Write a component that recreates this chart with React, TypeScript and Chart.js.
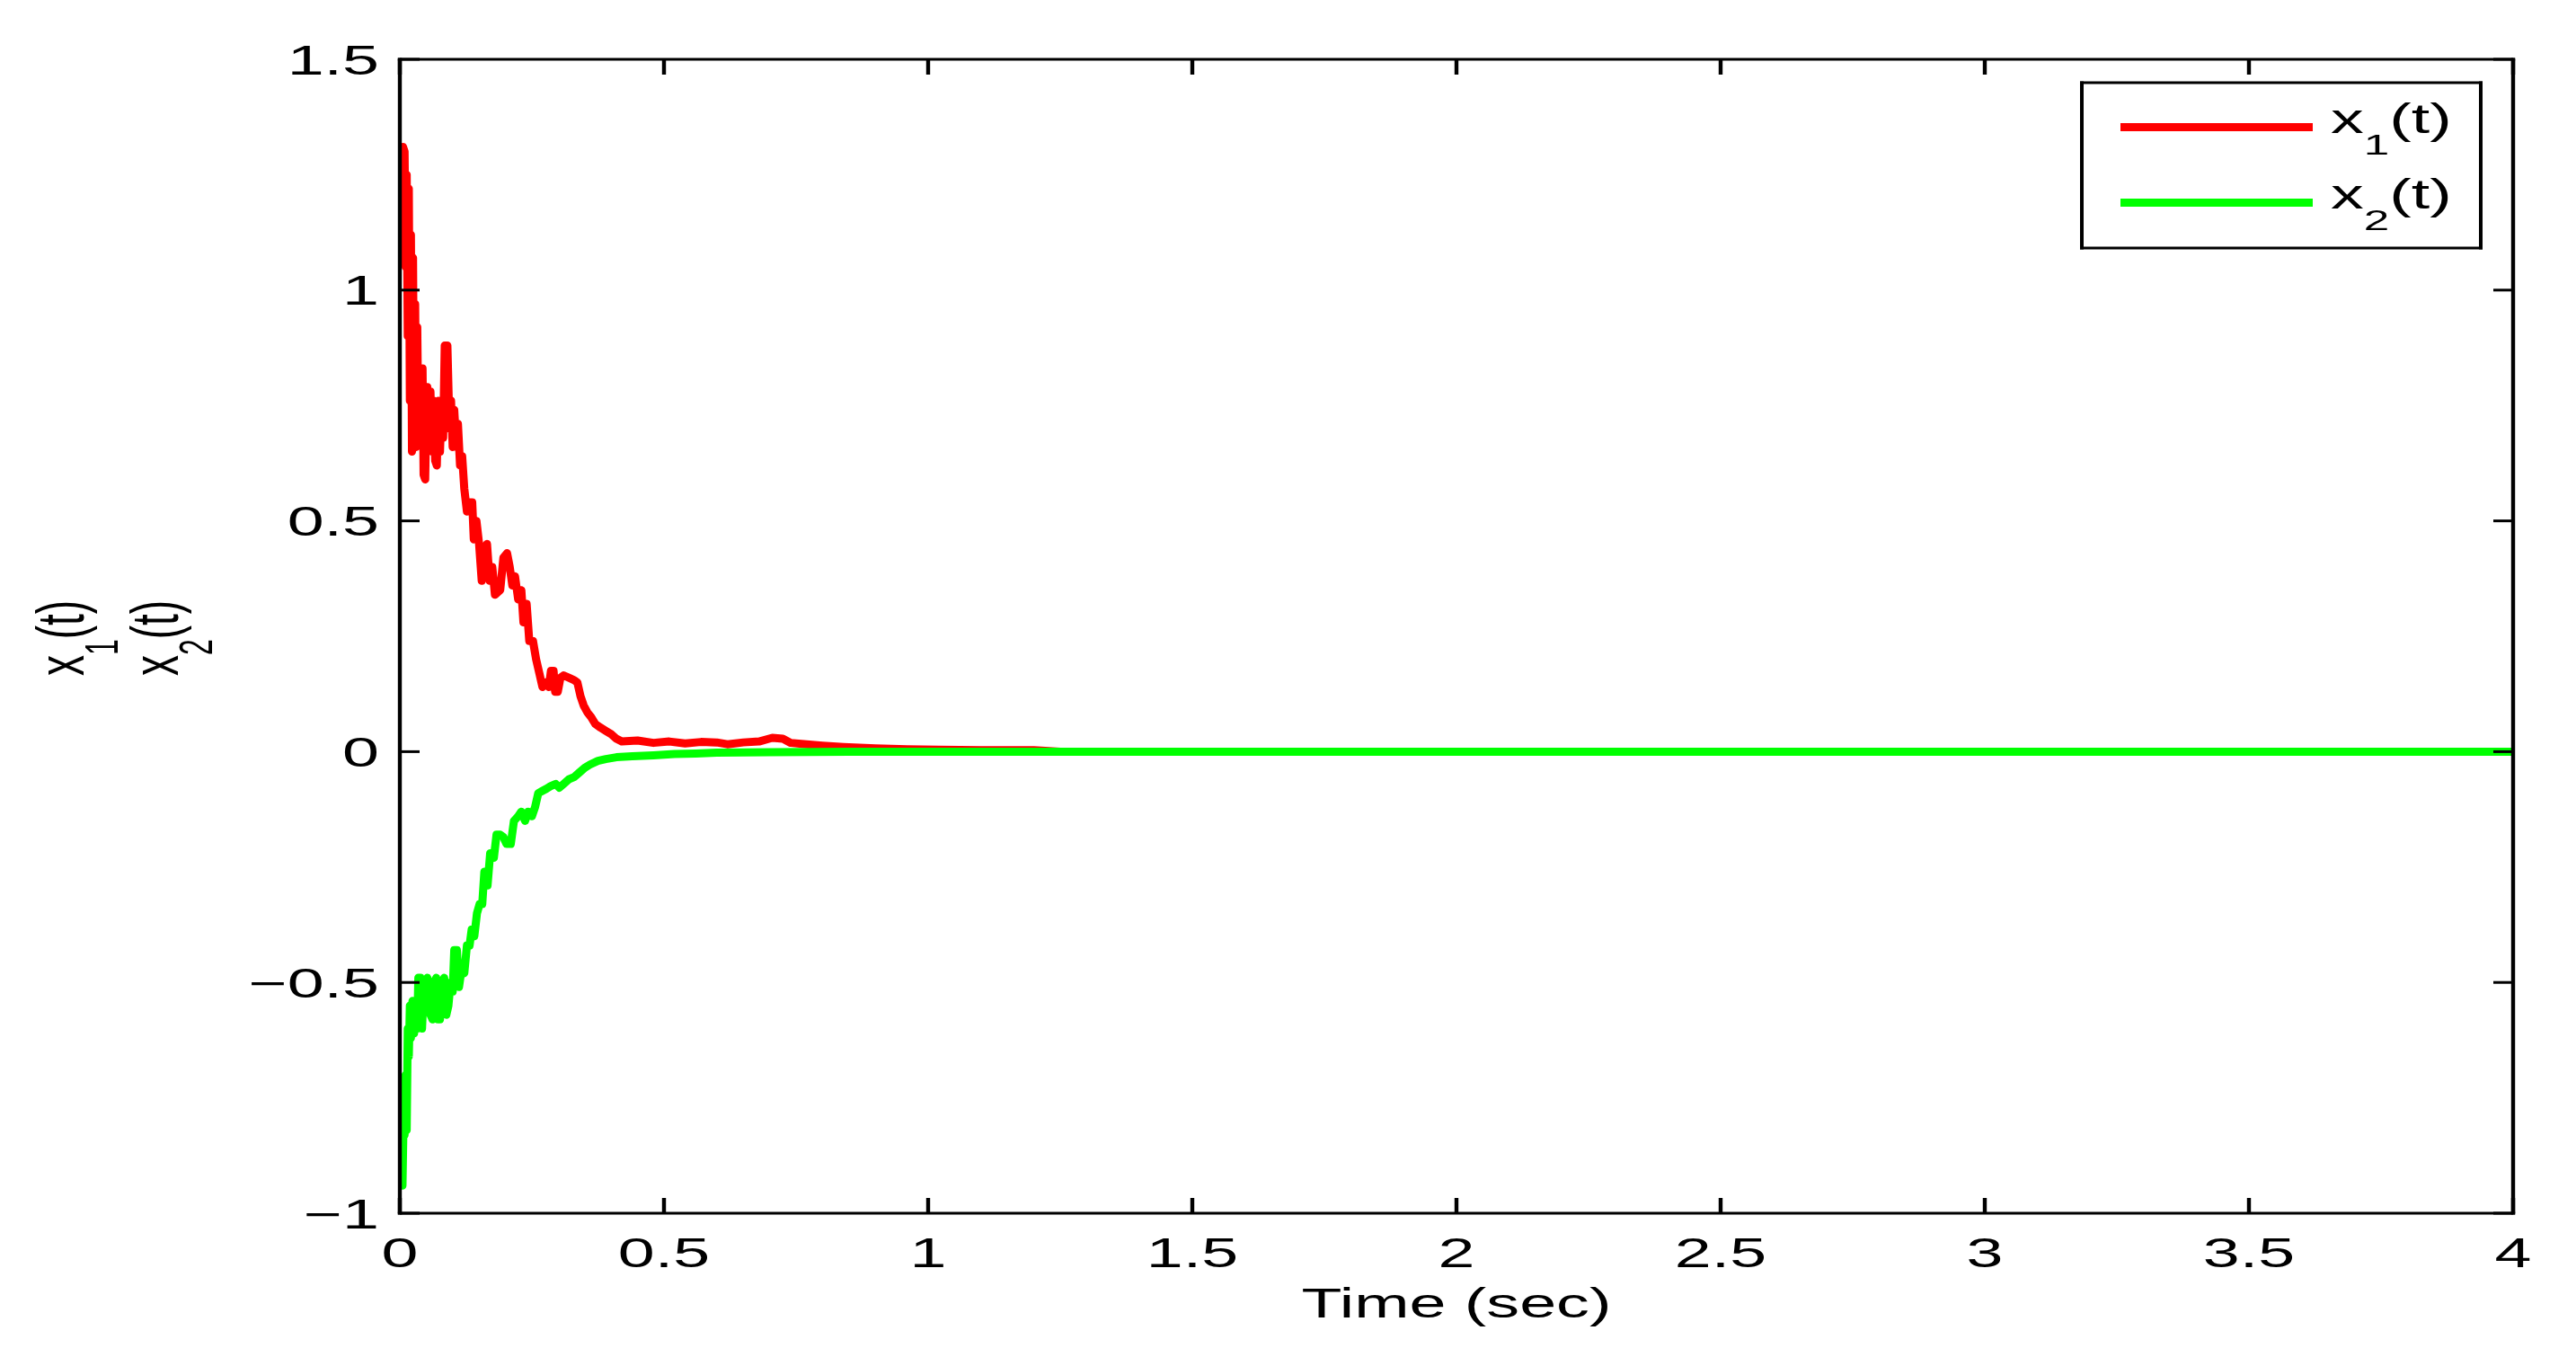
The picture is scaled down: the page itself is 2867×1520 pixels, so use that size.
import React, { useEffect, useRef } from 'react';
import { Chart, registerables } from 'chart.js';

Chart.register(...registerables);

// ---------- data ----------
const xTicks = [0, 0.5, 1, 1.5, 2, 2.5, 3, 3.5, 4];
const xTickLabels = ['0', '0.5', '1', '1.5', '2', '2.5', '3', '3.5', '4'];
const yTicks = [-1, -0.5, 0, 0.5, 1, 1.5];
const yTickLabels = ['\u22121', '\u22120.5', '0', '0.5', '1', '1.5'];
const xTitle = 'Time (sec)';
const seriesNames = [
  ['x', '1', '(t)'],
  ['x', '2', '(t)'],
];
const seriesColors = ['#ff0000', '#00ff00'];

const t1 = [
  0, 0.003, 0.006, 0.009, 0.011, 0.013, 0.015, 0.017, 0.019, 0.021,
  0.023, 0.025, 0.027, 0.029, 0.031, 0.033, 0.035, 0.037, 0.040, 0.043,
  0.045, 0.048, 0.050, 0.052, 0.055, 0.058, 0.061, 0.064, 0.067, 0.070,
  0.073, 0.076, 0.079, 0.082, 0.085, 0.090, 0.094, 0.097, 0.100, 0.103,
  0.107, 0.110, 0.114, 0.118, 0.122, 0.127, 0.130, 0.137, 0.140, 0.145,
  0.150, 0.155, 0.160, 0.165, 0.170, 0.175, 0.180, 0.190, 0.196, 0.203,
  0.208, 0.213, 0.218, 0.224, 0.230, 0.234, 0.240, 0.245, 0.252, 0.258,
  0.264, 0.270, 0.276, 0.282, 0.286, 0.291, 0.294, 0.299, 0.304, 0.310,
  0.320, 0.330, 0.336, 0.342, 0.348, 0.355, 0.362, 0.370, 0.380, 0.390,
  0.400, 0.410, 0.420, 0.450, 0.480, 0.510, 0.540, 0.570, 0.600, 0.620,
  0.650, 0.680, 0.705, 0.725, 0.740, 0.770, 0.800, 0.840, 0.900, 0.960,
  1.020, 1.100, 1.200, 1.250, 4.0,
];
const x1 = [
  1.30, 1.12, 1.31, 1.30, 1.05, 1.25, 0.90, 1.22, 0.76, 1.12,
  0.65, 1.07, 0.66, 0.97, 0.66, 0.92, 0.70, 0.83, 0.74, 0.83,
  0.60, 0.59, 0.72, 0.79, 0.66, 0.78, 0.65, 0.76, 0.63, 0.62,
  0.76, 0.65, 0.76, 0.68, 0.88, 0.88, 0.70, 0.76, 0.66, 0.74,
  0.66, 0.71, 0.62, 0.64, 0.57, 0.52, 0.54, 0.54, 0.46, 0.50,
  0.45, 0.37, 0.44, 0.45, 0.37, 0.40, 0.34, 0.35, 0.42, 0.43,
  0.40, 0.36, 0.38, 0.33, 0.35, 0.28, 0.32, 0.24, 0.24, 0.20,
  0.17, 0.14, 0.15, 0.14, 0.175, 0.175, 0.13, 0.13, 0.16, 0.165,
  0.16, 0.155, 0.15, 0.12, 0.10, 0.085, 0.075, 0.06, 0.052, 0.045,
  0.038, 0.028, 0.022, 0.024, 0.019, 0.022, 0.018, 0.021, 0.020, 0.016,
  0.020, 0.022, 0.030, 0.028, 0.019, 0.016, 0.013, 0.010, 0.007, 0.005,
  0.004, 0.003, 0.003, 0, 0,
];

const t2 = [
  0, 0.002, 0.005, 0.007, 0.009, 0.011, 0.013, 0.015, 0.017, 0.019,
  0.021, 0.024, 0.027, 0.030, 0.033, 0.035, 0.039, 0.042, 0.045, 0.048,
  0.052, 0.055, 0.058, 0.062, 0.065, 0.069, 0.072, 0.076, 0.080, 0.084,
  0.088, 0.092, 0.096, 0.100, 0.103, 0.108, 0.112, 0.117, 0.122, 0.127,
  0.132, 0.136, 0.141, 0.146, 0.151, 0.156, 0.160, 0.166, 0.171, 0.178,
  0.183, 0.190, 0.196, 0.202, 0.210, 0.216, 0.224, 0.230, 0.237, 0.243,
  0.250, 0.256, 0.262, 0.270, 0.278, 0.285, 0.295, 0.302, 0.310, 0.320,
  0.330, 0.340, 0.350, 0.360, 0.375, 0.390, 0.410, 0.440, 0.480, 0.520,
  0.560, 0.600, 0.700, 0.850, 4.0,
];
const x2 = [
  -0.77, -0.94, -0.94, -0.80, -0.83, -0.70, -0.82, -0.60, -0.66, -0.55,
  -0.62, -0.54, -0.61, -0.55, -0.60, -0.49, -0.49, -0.60, -0.52, -0.56,
  -0.49, -0.50, -0.57, -0.58, -0.50, -0.49, -0.58, -0.58, -0.50, -0.49,
  -0.57, -0.55, -0.50, -0.52, -0.43, -0.43, -0.51, -0.47, -0.48, -0.42,
  -0.42, -0.385, -0.40, -0.35, -0.33, -0.33, -0.26, -0.29, -0.22, -0.23,
  -0.18, -0.18, -0.185, -0.20, -0.20, -0.15, -0.14, -0.13, -0.15, -0.13,
  -0.14, -0.12, -0.09, -0.085, -0.08, -0.075, -0.07, -0.078, -0.07, -0.06,
  -0.055, -0.045, -0.035, -0.028, -0.02, -0.016, -0.012, -0.010, -0.008, -0.005,
  -0.004, -0.002, -0.001, 0, 0,
];

// ---------- styling ----------
const W = 2867;
const H = 1520;
const FONT_FAMILY = '"Liberation Sans", Arial, Helvetica, sans-serif';
const MAIN_FONT = `46px ${FONT_FAMILY}`;
const SUB_FONT = `32px ${FONT_FAMILY}`;
const SUB_DY = 24;
const SX = 1.6; // horizontal text stretch of the original rendering
const LINE_W = 9;

type Part = { text: string; sub?: boolean };
const toParts = (n: string[]): Part[] => [
  { text: n[0] },
  { text: n[1], sub: true },
  { text: n[2] },
];

function richWidth(ctx: CanvasRenderingContext2D, parts: Part[]) {
  let w = 0;
  for (const p of parts) {
    ctx.font = p.sub ? SUB_FONT : MAIN_FONT;
    w += ctx.measureText(p.text).width;
  }
  return w;
}

function drawRich(ctx: CanvasRenderingContext2D, parts: Part[], x: number, y: number) {
  let cx = x;
  ctx.textAlign = 'left';
  ctx.textBaseline = 'alphabetic';
  for (const p of parts) {
    ctx.font = p.sub ? SUB_FONT : MAIN_FONT;
    ctx.fillText(p.text, cx, y + (p.sub ? SUB_DY : 0));
    cx += ctx.measureText(p.text).width;
  }
}

function stretchedText(
  ctx: CanvasRenderingContext2D,
  text: string,
  x: number,
  y: number,
  align: CanvasTextAlign
) {
  ctx.save();
  ctx.translate(x, y);
  ctx.scale(SX, 1);
  ctx.font = MAIN_FONT;
  ctx.textAlign = align;
  ctx.textBaseline = 'alphabetic';
  ctx.fillStyle = '#000';
  ctx.fillText(text, 0, 0);
  ctx.restore();
}

const matlabPlugin = {
  id: 'matlabLook',
  beforeDraw(chart: any) {
    const ctx = chart.ctx as CanvasRenderingContext2D;
    ctx.save();
    ctx.fillStyle = '#fff';
    ctx.fillRect(0, 0, chart.width, chart.height);
    ctx.restore();
  },
  afterDatasetsDraw(chart: any) {
    const ctx = chart.ctx as CanvasRenderingContext2D;
    const xs = chart.scales.x;
    const ys = chart.scales.y;
    const L = xs.getPixelForValue(xs.min);
    const R = xs.getPixelForValue(xs.max);
    const T = ys.getPixelForValue(ys.max);
    const B = ys.getPixelForValue(ys.min);
    const VW = 4.4; // vertical line width
    const HW = 3; // horizontal line width
    ctx.save();
    ctx.fillStyle = '#000';
    // box
    ctx.fillRect(L - VW / 2, T - HW / 2, R - L + VW, HW);
    ctx.fillRect(L - VW / 2, B - HW / 2, R - L + VW, HW);
    ctx.fillRect(L - VW / 2, T - HW / 2, VW, B - T + HW);
    ctx.fillRect(R - VW / 2, T - HW / 2, VW, B - T + HW);
    // ticks (inward, mirrored)
    const XTL = 17;
    const YTL = 22;
    for (const v of xTicks) {
      const px = xs.getPixelForValue(v);
      ctx.fillRect(px - VW / 2, B - XTL, VW, XTL);
      ctx.fillRect(px - VW / 2, T, VW, XTL);
    }
    for (const v of yTicks) {
      const py = ys.getPixelForValue(v);
      ctx.fillRect(L, py - HW / 2, YTL, HW);
      ctx.fillRect(R - YTL, py - HW / 2, YTL, HW);
    }
    ctx.restore();
  },
  afterDraw(chart: any) {
    const ctx = chart.ctx as CanvasRenderingContext2D;
    const xs = chart.scales.x;
    const ys = chart.scales.y;
    const L = xs.getPixelForValue(xs.min);
    const R = xs.getPixelForValue(xs.max);
    const T = ys.getPixelForValue(ys.max);
    const B = ys.getPixelForValue(ys.min);

    // tick labels
    xTicks.forEach((v, i) => {
      stretchedText(ctx, xTickLabels[i], xs.getPixelForValue(v), B + 60, 'center');
    });
    yTicks.forEach((v, i) => {
      stretchedText(ctx, yTickLabels[i], L - 23, ys.getPixelForValue(v) + 16.5, 'right');
    });

    // x title
    stretchedText(ctx, xTitle, (L + R) / 2, B + 116, 'center');

    // y title: two rotated lines
    const cy = (T + B) / 2 + 2;
    seriesNames.forEach((n, i) => {
      const parts = toParts(n);
      ctx.save();
      ctx.translate(93 + i * 105, cy);
      ctx.scale(SX, 1);
      ctx.rotate(-Math.PI / 2);
      ctx.fillStyle = '#000';
      const w = richWidth(ctx, parts);
      drawRich(ctx, parts, -w / 2, 0);
      ctx.restore();
    });

    // legend
    const lx0 = 2317;
    const lx1 = 2761;
    const ly0 = 92;
    const ly1 = 276;
    ctx.save();
    ctx.fillStyle = '#fff';
    ctx.fillRect(lx0, ly0, lx1 - lx0, ly1 - ly0);
    ctx.fillStyle = '#000';
    ctx.fillRect(lx0 - 2, ly0 - 1.5, lx1 - lx0 + 4, 3);
    ctx.fillRect(lx0 - 2, ly1 - 1.5, lx1 - lx0 + 4, 3);
    ctx.fillRect(lx0 - 2, ly0 - 1.5, 4, ly1 - ly0 + 3);
    ctx.fillRect(lx1 - 2, ly0 - 1.5, 4, ly1 - ly0 + 3);
    seriesNames.forEach((n, i) => {
      const ly = 141.5 + i * 84;
      ctx.strokeStyle = seriesColors[i];
      ctx.lineWidth = LINE_W;
      ctx.lineCap = 'butt';
      ctx.beginPath();
      ctx.moveTo(2360, ly);
      ctx.lineTo(2574, ly);
      ctx.stroke();
      ctx.save();
      ctx.translate(2594, ly + 6);
      ctx.scale(SX, 1);
      ctx.fillStyle = '#000';
      drawRich(ctx, toParts(n), 0, 0);
      ctx.restore();
    });
    ctx.restore();
  },
};

export default function App() {
  const ref = useRef<HTMLCanvasElement | null>(null);
  useEffect(() => {
    if (!ref.current) return;
    const chart = new Chart(ref.current, {
      type: 'line',
      data: {
        datasets: [
          {
            label: 'x1(t)',
            data: t1.map((t, i) => ({ x: t, y: x1[i] })),
            borderColor: seriesColors[0],
            borderWidth: LINE_W,
            pointRadius: 0,
            tension: 0,
            fill: false,
            order: 1,
            clip: 0,
            borderJoinStyle: 'round',
          },
          {
            label: 'x2(t)',
            data: t2.map((t, i) => ({ x: t, y: x2[i] })),
            borderColor: seriesColors[1],
            borderWidth: LINE_W,
            pointRadius: 0,
            tension: 0,
            fill: false,
            order: 0,
            clip: 0,
            borderJoinStyle: 'round',
          },
        ],
      },
      options: {
        responsive: false,
        animation: false,
        devicePixelRatio: 1,
        events: [],
        layout: { padding: { left: 445, top: 66, right: 70, bottom: 170 } },
        plugins: { legend: { display: false }, tooltip: { enabled: false } },
        scales: {
          x: { type: 'linear', min: 0, max: 4, display: false },
          y: { type: 'linear', min: -1, max: 1.5, display: false },
        },
      } as any,
      plugins: [matlabPlugin],
    });
    return () => chart.destroy();
  }, []);
  return (
    <div style={{ position: 'absolute', left: 0, top: 0, width: W, height: H, background: '#fff' }}>
      <canvas ref={ref} width={W} height={H} style={{ display: 'block' }} />
    </div>
  );
}
